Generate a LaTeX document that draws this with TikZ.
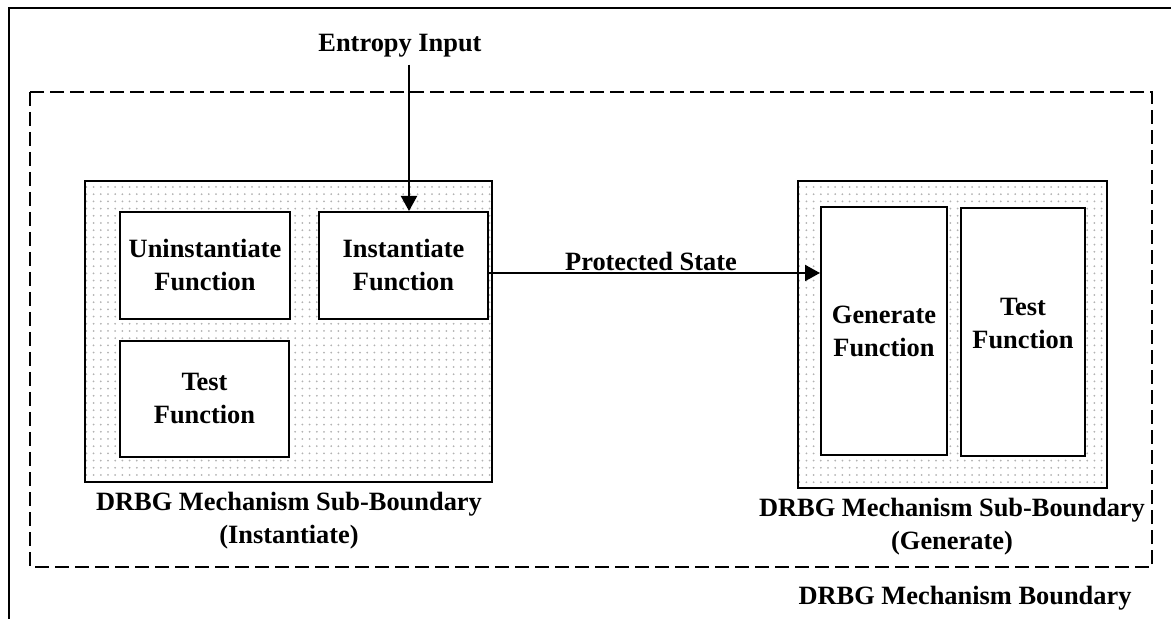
\documentclass[tikz,border=0pt]{standalone}
\usepackage{fontspec}
\setmainfont{Liberation Serif}
\usetikzlibrary{arrows.meta,patterns.meta}

\tikzdeclarepattern{
  name=subdots,
  type=uncolored,
  bottom left={(-1.8pt,-1.8pt)},
  top right={(1.8pt,1.8pt)},
  tile size={(3.6pt,3.6pt)},
  code={\pgfpathcircle{\pgfpointorigin}{0.5pt}\pgfusepath{fill}}
}

\tikzset{
  func/.style={draw, line width=1pt, fill=white, align=center},
  subbound/.style={draw, line width=1pt, pattern=subdots, pattern color=gray!60},
  lbl/.style={align=center},
  flow/.style={line width=1pt, -{Triangle[length=7.5pt,width=8pt]}},
}

\begin{document}
\begin{tikzpicture}[x=0.5pt, y=-0.5pt, font=\bfseries\fontsize{13.2}{16.5}\selectfont]
      \useasboundingbox (0,0) rectangle (1171,619);
      % frame and mechanism boundary
      \draw[line width=1pt] (1171,8) -- (9,8) -- (9,619);
      \draw[line width=0.9pt, dash pattern=on 7pt off 3pt] (30,92) rectangle (1152,567);
      \node[lbl] (mb) at (965,598) {DRBG Mechanism Boundary};

      % sub-boundaries
      \node[subbound, minimum width=203.5pt, minimum height=150.5pt] (lsub) at (288.5,331.5) {};
      \node[subbound, minimum width=154.5pt, minimum height=153.5pt] (rsub) at (952.5,334.5) {};
      \node[lbl] (lsubtxt) at (289,521) {DRBG Mechanism Sub-Boundary\\(Instantiate)};
      \node[lbl] (rsubtxt) at (952,527) {DRBG Mechanism Sub-Boundary\\(Generate)};

      % functions
      \node[func, minimum width=85pt, minimum height=53.5pt] (uninst) at (205,265.5) {Uninstantiate\\Function};
      \node[func, minimum width=84.5pt, minimum height=53.5pt] (inst) at (403.5,265.5) {Instantiate\\Function};
      \node[func, minimum width=84.5pt, minimum height=58pt] (testl) at (204.5,399) {Test\\Function};
      \node[func, minimum width=63pt, minimum height=124pt] (gen) at (884,331) {};
      \node[func, minimum width=62pt, minimum height=124pt] (testr) at (1023,332) {};
      \node[lbl] (gentxt) at (gen.center) {Generate\\Function};
      \node[lbl] (testrtxt) at (1023,324) {Test\\Function};

      % inputs and state
      \node[lbl] (ent) at (400,46) {Entropy Input};
      \node[lbl] (ps) at (651,261) {Protected State};
      \draw[flow] ([xshift=2.75pt]inst.north |- ent.south) -- ([xshift=2.75pt]inst.north);
      \draw[flow] ([yshift=-3.75pt]inst.east) -- ([yshift=-3.75pt]inst.east -| gen.west);
    \end{tikzpicture}
\end{document}
